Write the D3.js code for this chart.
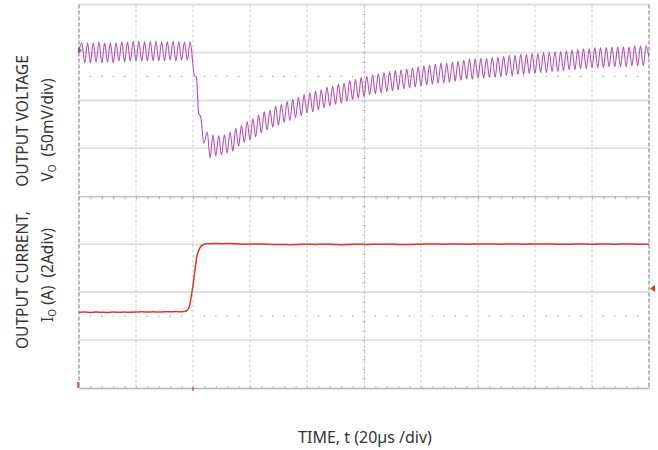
<!DOCTYPE html>
<html>
<head>
<meta charset="utf-8">
<script src="https://cdnjs.cloudflare.com/ajax/libs/d3/7.8.5/d3.min.js"></script>
<style>
  body { margin: 0; background: #fff; }
  text { font-family: "Noto Sans", sans-serif; fill: #333; }
</style>
</head>
<body>
<svg id="chart" width="658" height="450"></svg>
<script>
// time base: 20 us/div, 10 divisions
var timeDomain = [0, 200]
// CH1 output voltage (mV, relative to its marker), 50 mV/div
var voltDomain = [-350, 50]
// CH2 output current (A), 2 A/div
var currDomain = [-2, 14]

// output voltage trace [t (us), mV]
var voltSamples = [
  [0,2],[1,10],[2,-11],[3,10],[4,-11],[5,10],[6,-10],[7,11],[8,-11],[9,10],[10,-10],
  [11,10],[12,-11],[13,10],[14,-9],[15,11],[16,-10],[17,11],[18,-9],[19,12],[20,-9],
  [21,12],[22,-9],[23,11],[24,-9],[25,12],[26,-9],[27,12],[28,-9],[29,11],[30,-9],
  [31,11],[32,-8],[33,12],[34,-9],[35,11],[36,-8],[37,11],[38,-8],[39,11],
  [40.5,-24],[41.2,-26],[42,-64],[42.7,-67],[43.8,-95],[45,-83],[46,-110],[47,-86],[48,-108],[49,-87],[50,-107],
  [51,-86],[52,-105],[53,-83],[54,-103],[55,-79],[56,-98],[57,-76],[58,-94],[59,-72],[60,-91],
  [61,-69],[62,-88],[63,-65],[64,-84],[65,-62],[66,-81],[67,-60],[68,-78],[69,-56],[70,-76],
  [71,-54],[72,-73],[73,-51],[74,-71],[75,-49],[76,-68],[77,-47],[78,-66],[79,-44],[80,-63],
  [81,-42],[82,-62],[83,-40],[84,-60],[85,-39],[86,-58],[87,-36],[88,-56],[89,-35],[90,-54],
  [91,-33],[92,-53],[93,-32],[94,-51],[95,-29],[96,-49],[97,-28],[98,-48],[99,-26],[100,-46],
  [101,-25],[102,-44],[103,-23],[104,-43],[105,-22],[106,-42],[107,-21],[108,-41],[109,-20],[110,-40],
  [111,-19],[112,-39],[113,-18],[114,-38],[115,-17],[116,-37],[117,-16],[118,-36],[119,-15],[120,-35],
  [121,-14],[122,-34],[123,-13],[124,-33],[125,-12],[126,-32],[127,-11],[128,-32],[129,-11],[130,-31],
  [131,-10],[132,-30],[133,-9],[134,-29],[135,-8],[136,-28],[137,-7],[138,-28],[139,-7],[140,-27],
  [141,-6],[142,-27],[143,-6],[144,-26],[145,-5],[146,-26],[147,-5],[148,-25],[149,-4],[150,-24],
  [151,-3],[152,-24],[153,-3],[154,-23],[155,-2],[156,-23],[157,-2],[158,-22],[159,-1],[160,-22],
  [161,-1],[162,-21],[163,0],[164,-21],[165,0],[166,-20],[167,1],[168,-20],[169,1],[170,-19],
  [171,2],[172,-18],[173,3],[174,-18],[175,3],[176,-17],[177,4],[178,-17],[179,4],[180,-16],
  [181,5],[182,-16],[183,5],[184,-16],[185,5],[186,-15],[187,6],[188,-15],[189,6],[190,-15],
  [191,6],[192,-15],[193,6],[194,-14],[195,7],[196,-14],[197,7],[198,-14],[199,7],[200,-6]
]

// output current trace [t (us), A]
var currSamples = [
  [0,1.16],[2,1.17],[4,1.15],[6,1.17],[8,1.16],[10,1.15],[12,1.17],[14,1.16],[16,1.17],[18,1.16],
  [20,1.17],[22,1.18],[24,1.17],[26,1.18],[28,1.17],[30,1.18],[32,1.18],[34,1.19],[36,1.18],
  [37.8,1.22],[38.9,1.5],[40.1,2.37],[41.3,3.45],[42.5,3.86],[43.6,3.98],[45,4.02],[47,4.03],
  [50,4.02],[53,4.03],[56,4.01],[59,4.0],[62,4.01],[65,4.0],[68,3.99],[71,3.99],[74,3.98],
  [77,3.99],[80,4.0],[83,3.99],[86,4.0],[89,3.99],[92,3.98],[95,3.99],[98,4.0],[101,3.99],
  [104,4.0],[108,4.0],[112,3.99],[116,3.99],[120,4.0],[124,4.01],[128,4.0],[132,4.01],
  [136,4.0],[140,4.01],[144,4.01],[148,4.0],[152,4.01],[156,4.0],[160,4.01],[164,4.01],
  [168,4.0],[172,4.0],[176,4.01],[180,4.0],[184,4.01],[188,4.0],[192,4.01],[196,4.0],[200,4.0]
]

var ch1Marker = 2      // mV
var ch2Marker = 2.15   // A
var triggerTime = 40   // us

var yLabelTop = ["OUTPUT VOLTAGE", "V", "O", "\u00a0\u00a0(50mV/div)"]
var yLabelBottom = ["OUTPUT CURRENT,", "I", "O", "\u00a0(A)\u00a0\u00a0(2Adiv)"]
var xLabel = "TIME, t (20\u00b5s /div)"

var svg = d3.select("#chart")
var box = {left: 79, right: 649, top: 4.5, bottom: 388}

var x = d3.scaleLinear().domain(timeDomain).range([box.left, box.right])
var yV = d3.scaleLinear().domain(voltDomain).range([box.bottom, box.top])
var yI = d3.scaleLinear().domain(currDomain).range([box.bottom, box.top])

var grid = svg.append("g")

// horizontal division lines
var hDivs = d3.range(voltDomain[0] + 50, voltDomain[1], 50).filter(d => d !== -150)
grid.selectAll("line.h").data(hDivs).enter().append("line")
  .attr("x1", box.left).attr("x2", box.right)
  .attr("y1", d => yV(d)).attr("y2", d => yV(d))
  .attr("stroke", "#dcdcdc").attr("stroke-width", 1.6)

// vertical division lines (dashed)
var vDivs = d3.range(timeDomain[0] + 20, timeDomain[1], 20).filter(d => d !== 100)
grid.selectAll("line.v").data(vDivs).enter().append("line")
  .attr("y1", box.top).attr("y2", box.bottom)
  .attr("x1", d => x(d)).attr("x2", d => x(d))
  .attr("stroke", "#d4d4d4").attr("stroke-width", 1.2)
  .attr("stroke-dasharray", "3,2")

// dotted sub rows
var minorT = d3.range(4, 200, 4).filter(d => d % 20 !== 0)
;[-25, -275].forEach(function(v) {
  grid.selectAll(null).data(minorT).enter().append("line")
    .attr("x1", d => x(d) - 0.8).attr("x2", d => x(d) + 0.8)
    .attr("y1", yV(v)).attr("y2", yV(v))
    .attr("stroke", "#b8b8b8").attr("stroke-width", 1.4)
})

// centre axes with minor ticks
var cx = grid.append("g")
  .attr("transform", "translate(0," + yV(-150) + ")")
  .call(d3.axisBottom(x).tickValues(d3.range(0, 201, 4)).tickSize(3).tickSizeOuter(0).tickFormat(""))
cx.select(".domain").attr("stroke", "#c4c4c4").attr("stroke-width", 1.4)
cx.selectAll(".tick line").attr("stroke", "#b0b0b0")

var cy = grid.append("g")
  .attr("transform", "translate(" + x(100) + ",0)")
  .call(d3.axisLeft(yV).tickValues(d3.range(-350, 51, 10)).tickSize(3).tickSizeOuter(0).tickFormat(""))
cy.select(".domain").attr("stroke", "#c8c8c8").attr("stroke-width", 1.2).attr("stroke-dasharray", "3,2")
cy.selectAll(".tick line").attr("stroke", "#b8b8b8").attr("transform", "translate(1.5,0)")

// bottom edge ticks
var bx = grid.append("g")
  .attr("transform", "translate(0," + box.bottom + ")")
  .call(d3.axisTop(x).tickValues(d3.range(0, 201, 4)).tickSize(2).tickSizeOuter(0).tickFormat(""))
bx.select(".domain").attr("stroke", "#b4b4b4").attr("stroke-width", 1.4)
bx.selectAll(".tick line").attr("stroke", "#bbb")

// frame
grid.append("line").attr("x1", box.left).attr("x2", box.right).attr("y1", box.top).attr("y2", box.top)
  .attr("stroke", "#d8d8d8").attr("stroke-width", 1.6)
;[box.left, box.right].forEach(function(px) {
  grid.append("line").attr("x1", px).attr("x2", px).attr("y1", box.top).attr("y2", box.bottom)
    .attr("stroke", "#a8a8a8").attr("stroke-width", 1.6).attr("stroke-dasharray", "4,2")
})

// traces
svg.append("defs").append("clipPath").attr("id", "plot")
  .append("rect").attr("x", box.left).attr("y", box.top)
  .attr("width", box.right - box.left).attr("height", box.bottom - box.top)

var traces = svg.append("g").attr("clip-path", "url(#plot)")

var voltLine = d3.line().x(d => x(d[0])).y(d => yV(d[1])).curve(d3.curveMonotoneX)
traces.append("path").datum(voltSamples)
  .attr("d", voltLine).attr("fill", "none")
  .attr("stroke", "#b350b8").attr("stroke-width", 1.1)

var currLine = d3.line().x(d => x(d[0])).y(d => yI(d[1])).curve(d3.curveMonotoneX)
traces.append("path").datum(currSamples)
  .attr("d", currLine).attr("fill", "none")
  .attr("stroke", "#e8302a").attr("stroke-width", 1.5)

// channel / trigger markers
svg.append("path")
  .attr("d", "M" + (box.left - 1) + "," + (yV(ch1Marker) - 3) + "l4,3l-4,3z")
  .attr("fill", "#a040a8")
svg.append("path")
  .attr("d", "M" + (box.right + 6) + "," + (yI(ch2Marker) - 3.5) + "l-5,3.5l5,3.5z")
  .attr("fill", "#e8302a")
svg.append("line")
  .attr("x1", x(triggerTime)).attr("x2", x(triggerTime))
  .attr("y1", box.bottom - 1).attr("y2", box.bottom + 3)
  .attr("stroke", "#e8302a").attr("stroke-width", 1.2)
svg.append("line")
  .attr("x1", box.left - 1).attr("x2", box.left - 1)
  .attr("y1", box.bottom - 6).attr("y2", box.bottom)
  .attr("stroke", "#e8302a").attr("stroke-width", 1.5)

// labels
function sideLabel(parts, cxPos, cyPos) {
  var t = svg.append("text")
    .attr("transform", "translate(" + cxPos + "," + cyPos + ") rotate(-90)")
    .attr("text-anchor", "middle")
    .style("font-size", "15.5px")
  if (parts.length === 1) { t.text(parts[0]); return }
  t.append("tspan").text(parts[0])
  t.append("tspan").text(parts[1]).style("font-size", "10px").attr("dy", 3)
  t.append("tspan").text(parts[2]).attr("dy", -3)
}

sideLabel([yLabelTop[0]], 28, 121)
sideLabel([yLabelTop[1], yLabelTop[2], yLabelTop[3]], 53, 130)
sideLabel([yLabelBottom[0]], 28, 280)
sideLabel([yLabelBottom[1], yLabelBottom[2], yLabelBottom[3]], 53, 275)

svg.append("text")
  .attr("x", 365).attr("y", 443)
  .attr("text-anchor", "middle")
  .style("font-size", "16px")
  .text(xLabel)
</script>
</body>
</html>
